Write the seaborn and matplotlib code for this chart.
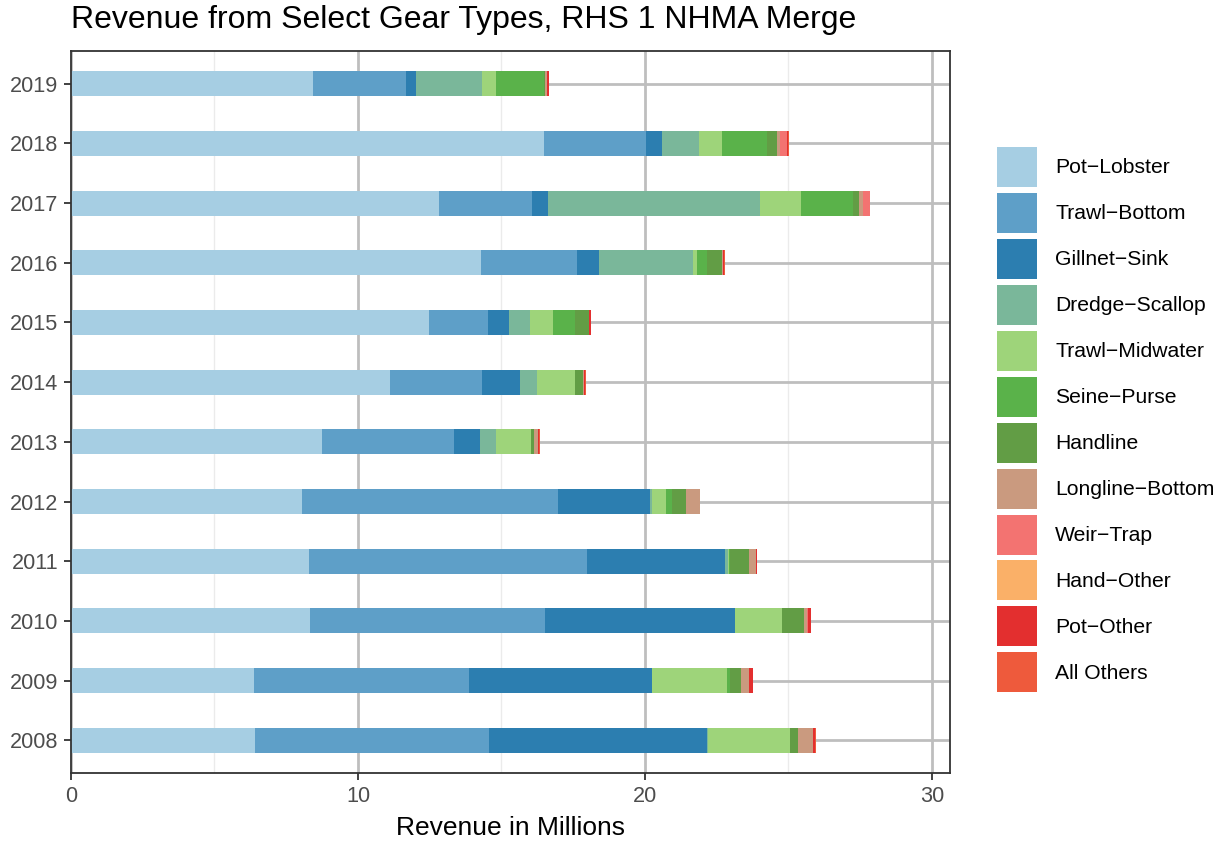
import matplotlib
matplotlib.use("Agg")
import matplotlib.pyplot as plt
from matplotlib.patches import Patch
from matplotlib.ticker import MultipleLocator
import numpy as np
import pandas as pd
import seaborn as sns

years = [2008, 2009, 2010, 2011, 2012, 2013, 2014, 2015, 2016, 2017, 2018, 2019]
gears = ["Pot\u2212Lobster", "Trawl\u2212Bottom", "Gillnet\u2212Sink", "Dredge\u2212Scallop",
         "Trawl\u2212Midwater", "Seine\u2212Purse", "Handline", "Longline\u2212Bottom",
         "Weir\u2212Trap", "Hand\u2212Other", "Pot\u2212Other", "All Others"]

# revenue in millions, 2008 -> 2019
pot_lobster = [6.41, 6.39, 8.33, 8.31, 8.05, 8.75, 11.13, 12.49, 14.29, 12.83, 16.48, 8.45]
trawl_bottom = [8.15, 7.47, 8.19, 9.67, 8.91, 4.60, 3.20, 2.04, 3.34, 3.24, 3.56, 3.24]
gillnet_sink = [7.59, 6.37, 6.61, 4.80, 3.22, 0.90, 1.32, 0.74, 0.78, 0.56, 0.56, 0.34]
dredge_scallop = [0.06, 0.00, 0.00, 0.10, 0.06, 0.56, 0.60, 0.74, 3.28, 7.38, 1.28, 2.30]
trawl_midwater = [2.85, 2.62, 1.64, 0.06, 0.50, 1.22, 1.32, 0.80, 0.14, 1.44, 0.80, 0.48]
seine_purse = [0.00, 0.10, 0.00, 0.04, 0.20, 0.00, 0.00, 0.76, 0.34, 1.80, 1.56, 1.68]
handline = [0.26, 0.40, 0.76, 0.64, 0.48, 0.12, 0.28, 0.48, 0.52, 0.20, 0.36, 0.04]
longline_bottom = [0.54, 0.28, 0.10, 0.24, 0.50, 0.14, 0.04, 0.00, 0.04, 0.14, 0.12, 0.06]
weir_trap = [0.00, 0.00, 0.06, 0.00, 0.00, 0.00, 0.00, 0.00, 0.00, 0.24, 0.22, 0.00]
hand_other = [0.00, 0.00, 0.00, 0.00, 0.00, 0.00, 0.00, 0.00, 0.00, 0.00, 0.00, 0.00]
pot_other = [0.08, 0.12, 0.08, 0.04, 0.00, 0.02, 0.02, 0.06, 0.04, 0.00, 0.06, 0.06]
all_others = [0.02, 0.02, 0.02, 0.02, 0.00, 0.02, 0.02, 0.02, 0.02, 0.02, 0.02, 0.02]

colors = ["#A6CEE3", "#5E9FC8", "#2C7EB0", "#7AB79A", "#9ED47A", "#5AB24A",
          "#629D45", "#CA9A7F", "#F37371", "#FAB068", "#E32F2F", "#EE5A3C"]

values = np.array([pot_lobster, trawl_bottom, gillnet_sink, dredge_scallop, trawl_midwater,
                   seine_purse, handline, longline_bottom, weir_trap, hand_other,
                   pot_other, all_others])
cum = values.cumsum(axis=0)
df = pd.DataFrame(cum.T, columns=gears)
df["Year"] = [str(y) for y in years]
order = [str(y) for y in years[::-1]]

sns.set_style("white")
plt.rcParams["font.family"] = ["Liberation Sans", "DejaVu Sans"]
plt.rcParams["text.color"] = "black"

fig = plt.figure(figsize=(12.23, 8.41), dpi=100)
ax = fig.add_axes([71 / 1223, 68 / 841, 879 / 1223, 722 / 841])

# draw stacked bars from the total down so each layer covers the one below
for i in reversed(range(len(gears))):
    sns.barplot(data=df, x=gears[i], y="Year", order=order, orient="h", color=colors[i],
                saturation=1, width=0.42, linewidth=0, ax=ax)

ax.set_xlim(0, 30.63)
ax.set_ylim(11.55, -0.55)
ax.xaxis.set_major_locator(MultipleLocator(10))
ax.xaxis.set_minor_locator(MultipleLocator(5))
ax.set_axisbelow(True)
ax.grid(which="major", color="#BEBEBE", lw=2)
ax.grid(which="minor", axis="x", color="#EBEBEB", lw=1)
for s in ax.spines.values():
    s.set_color("#333333")
    s.set_linewidth(1.3)
ax.tick_params(axis="both", which="major", length=5, width=1.3, color="#333333",
               labelsize=15.6, labelcolor="#4D4D4D", pad=4, left=True, bottom=True)
ax.tick_params(axis="x", which="minor", length=0)
ax.set_ylabel("")
ax.set_xlabel("Revenue in Millions", fontsize=19, color="black", labelpad=7)

fig.text(71 / 1223, 1 - 28 / 841, "Revenue from Select Gear Types, RHS 1 NHMA Merge",
         fontsize=23, va="baseline", ha="left", color="black")

handles = [Patch(facecolor=c, edgecolor="none") for c in colors]
fig.legend(handles, gears, loc="upper left", bbox_to_anchor=(997 / 1223, 1 - 147 / 841),
           frameon=False, fontsize=15.2, handlelength=1.9, handleheight=2.54,
           labelspacing=0.28, handletextpad=0.85, borderpad=0, borderaxespad=0)

fig.savefig("out.png", dpi=100)
